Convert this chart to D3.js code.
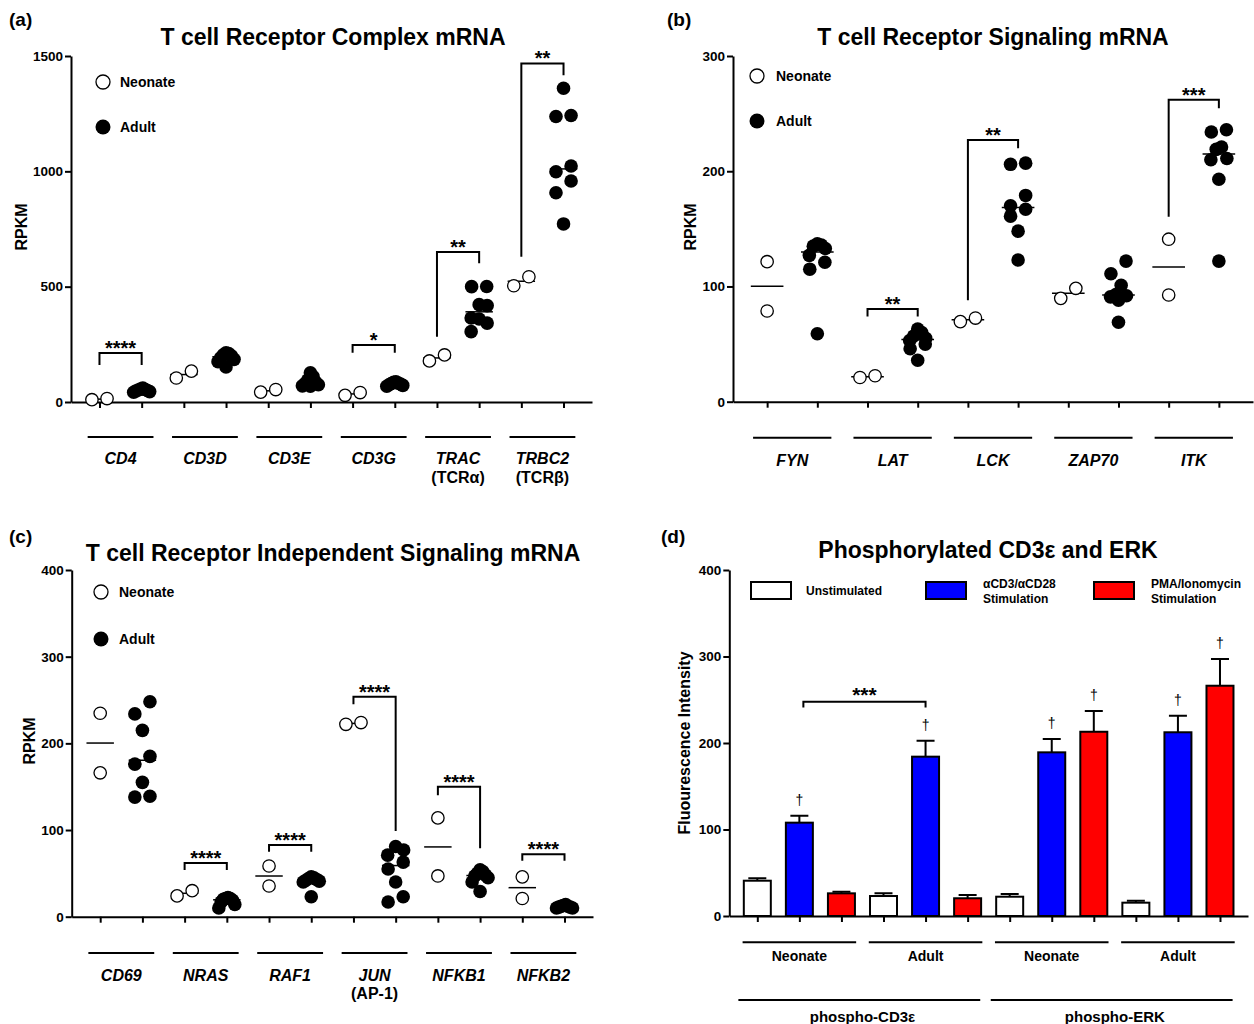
<!DOCTYPE html>
<html><head><meta charset="utf-8">
<script src="https://cdn.jsdelivr.net/npm/d3@7"></script>
<style>body{margin:0;background:#fff}</style>
</head><body>
<script>
// ---------------- DATA ----------------
// Panel (a) T cell Receptor Complex mRNA
const aCategories = ["CD4","CD3D","CD3E","CD3G","TRAC","TRBC2"];
const aSubLabels  = ["","","","","(TCRα)","(TCRβ)"];
const aNeonate = [[10,15],[104,134],[43,54],[29,41],[178,204],[504,543]];
const aAdult = [
  [60,56,54,52,50,48,45,42],
  [213,210,205,200,192,185,175,152],
  [127,110,95,85,80,75,70,68],
  [88,85,82,80,78,75,72,68],
  [501,500,422,418,364,360,342,305],
  [1360,1242,1238,1023,998,958,907,772]
];
const aYTicks = [0,500,1000,1500];
const aBrackets = [
  {cat:"CD4",  top:212, left:160, right:160, stars:"****"},
  {cat:"CD3G", top:247, left:213, right:213, stars:"*"},
  {cat:"TRAC", top:650, left:283, right:602, stars:"**"},
  {cat:"TRBC2",top:1468,left:630, right:1417,stars:"**"}
];

// Panel (b) T cell Receptor Signaling mRNA
const bCategories = ["FYN","LAT","LCK","ZAP70","ITK"];
const bSubLabels  = ["","","","",""];
const bNeonate = [[121.5,78.7],[21,22.5],[69.5,72.6],[89.7,98.4],[141,92.6]];
const bAdult = [
  [137,136,135,133,127,121,115,59],
  [63,60,57,55,53,50,46,36],
  [207,206,179,170,167,161,148,123],
  [122,111,101,93,92,91,88,69],
  [236,234,221,219,211,210,193,122]
];
const bYTicks = [0,100,200,300];
const bBrackets = [
  {cat:"LAT", top:80.5, left:74,    right:74,    stars:"**"},
  {cat:"LCK", top:227,  left:88,    right:220,   stars:"**"},
  {cat:"ITK", top:262,  left:160.6, right:254.7, stars:"***"}
];

// Panel (c) T cell Receptor Independent Signaling mRNA
const cCategories = ["CD69","NRAS","RAF1","JUN","NFKB1","NFKB2"];
const cSubLabels  = ["","","","(AP-1)","",""];
const cNeonate = [[234.7,166],[24,30],[58.5,35.4],[222,224],[114,47],[46,21]];
const cAdult = [
  [248,234,215,185,176,155,139,138],
  [22,21,21,20,19,17,14,10],
  [46,45,44,43,42,41,40,23],
  [81,77,71,63,55,40,23,17],
  [54,52,50,48,47,45,40,29],
  [14,13,12,12,11,11,10,10]
];
const cYTicks = [0,100,200,300,400];
const cBrackets = [
  {cat:"NRAS", top:62,    left:54,  right:54,   stars:"****"},
  {cat:"RAF1", top:82.7,  left:75,  right:75,   stars:"****"},
  {cat:"JUN",  top:253.8, left:245, right:99,   stars:"****"},
  {cat:"NFKB1",top:150,   left:140, right:79,   stars:"****"},
  {cat:"NFKB2",top:72,    left:64.6,right:64.6, stars:"****"}
];

// Panel (d) Phosphorylated CD3ε and ERK
const dMarkers = ["phospho-CD3ε","phospho-ERK"];
const dSubjects = ["Neonate","Adult"];
const dConditions = ["Unstimulated","αCD3/αCD28|Stimulation","PMA/Ionomycin|Stimulation"];
const dColors = ["#ffffff","#0000ff","#ff0000"];
// rows: CD3ε-Neonate, CD3ε-Adult, ERK-Neonate, ERK-Adult ; cols: conditions
const dMeans = [[40.8,107.9,26.2],[23.1,184.2,20.5],[22.3,189.2,213],[15.4,212.4,266.2]];
const dSEM   = [[2.8,8.1,1.8],[3.1,18.5,3.8],[3.1,15.4,24],[2.3,19.2,30.8]];
const dDagger = [[0,1,0],[0,1,0],[0,1,1],[0,1,1]];
const dYTicks = [0,100,200,300,400];
const dBracket = {from:[0,0,1], to:[0,1,1], top:247.7, left:241, right:241, stars:"***"};

// ---------------- DRAWING ----------------
const FONT = "'Liberation Sans', Arial, Helvetica, sans-serif";
const svg = d3.select("body").append("svg")
  .attr("width",1254).attr("height",1024)
  .style("font-family",FONT).style("background","#fff");

function styleAxis(sel, fs){
  sel.attr("font-family",FONT).attr("font-size",fs).attr("font-weight","bold");
  sel.select(".domain").attr("stroke","#000").attr("stroke-width",2);
  sel.selectAll(".tick line").attr("stroke","#000").attr("stroke-width",2);
  sel.selectAll(".tick text").attr("fill","#000");
}

// GraphPad-like scatter layout: points within one dot height share a row,
// rows are spread horizontally around the category centre.
function swarm(values, y, cx, r, gap, maxW){
  const pts = values.map(v=>({v, y:y(v)})).sort((a,b)=>a.y-b.y);
  const rows=[]; let cur=null;
  pts.forEach(p=>{
    if(cur && p.y-cur[0].y < 2*r) cur.push(p); else {cur=[p]; rows.push(cur);}
  });
  rows.forEach(row=>{
    row.sort((a,b)=>a.v-b.v);
    const k=row.length;
    const sp = k>1 ? Math.min(2*r+gap, maxW/(k-1)) : 0;
    // slot order: for k>2 the higher values sit in the middle (mound shape)
    let slots = d3.range(k);
    if(k>2){
      const left=[], right=[];
      d3.range(k).forEach(i=> (i%2===0 ? left : right).push(i));
      // lowest values go to the outer slots
      const order=[]; let lo=0, hi=k-1, t=0;
      for(let i=0;i<k;i++){ order.push(t%2===0 ? lo++ : hi--); t++; }
      slots = order;
    }
    row.forEach((p,i)=>p.x = cx + (slots[i]-(k-1)/2)*sp);
  });
  return pts;
}

function text(g, x, y, s, o={}){
  return g.append("text").attr("x",x).attr("y",y).text(s)
    .attr("font-size",o.fs||13).attr("font-weight",o.fw||"bold")
    .attr("font-style",o.it?"italic":"normal")
    .attr("text-anchor",o.anchor||"start").attr("fill","#000");
}

function dotPanel(c){
  const g = svg.append("g");
  const keys=[]; c.cats.forEach(k=>{keys.push(k+"|N"); keys.push(k+"|A");});
  const x = d3.scalePoint().domain(keys).range(c.xRange).padding(c.pad);
  const y = d3.scaleLinear().domain([0,c.yMax]).range(c.yRange);
  const step = x.step();
  const r = 6.8;

  g.append("g").attr("transform",`translate(${c.xRange[0]},0)`)
    .call(d3.axisLeft(y).tickValues(c.yTicks).tickFormat(d3.format("d")).tickSize(6).tickSizeOuter(0).tickPadding(2))
    .call(s=>styleAxis(s,13.5));
  g.append("g").attr("transform",`translate(0,${y(0)})`)
    .call(d3.axisBottom(x).tickSize(6).tickSizeOuter(0).tickFormat(""))
    .call(s=>styleAxis(s,13));

  // group lines & labels
  c.cats.forEach((k,i)=>{
    const mid=(x(k+"|N")+x(k+"|A"))/2;
    g.append("line").attr("x1",mid-0.78*step).attr("x2",mid+0.78*step)
      .attr("y1",c.groupLineY).attr("y2",c.groupLineY).attr("stroke","#000").attr("stroke-width",2);
    text(g, mid, c.labelY, k, {fs:16, it:true, anchor:"middle"});
    if(c.subs[i]) text(g, mid, c.labelY+18.5, c.subs[i], {fs:16, anchor:"middle"});
  });

  // medians
  const groups=[];
  c.cats.forEach((k,i)=>{
    groups.push({key:k+"|N", vals:c.neo[i], filled:false});
    groups.push({key:k+"|A", vals:c.adu[i], filled:true});
  });
  g.append("g").selectAll("line").data(groups).join("line")
    .attr("x1",d=>x(d.key)-0.325*step).attr("x2",d=>x(d.key)+0.325*step)
    .attr("y1",d=>y(d3.median(d.vals))).attr("y2",d=>y(d3.median(d.vals)))
    .attr("stroke","#000").attr("stroke-width",1.5);

  // dots
  groups.forEach(gr=>{
    const pts = swarm(gr.vals, y, x(gr.key), r, 1.5, 16);
    g.append("g").selectAll("circle").data(pts).join("circle")
      .attr("cx",d=>d.x).attr("cy",d=>d.y)
      .attr("r", gr.filled? r : r-0.6)
      .attr("fill", gr.filled? "#000":"#fff")
      .attr("stroke","#000").attr("stroke-width", gr.filled?0:1.3);
  });

  // brackets
  c.brackets.forEach(b=>{
    const xl=x(b.cat+"|N"), xr=x(b.cat+"|A");
    g.append("path").attr("d",`M${xl},${y(b.left)}V${y(b.top)}H${xr}V${y(b.right)}`)
      .attr("fill","none").attr("stroke","#000").attr("stroke-width",2);
    text(g,(xl+xr)/2, y(b.top)+2, b.stars, {fs:20, anchor:"middle"});
  });

  // legend
  const L=c.legend;
  g.append("circle").attr("cx",L.x).attr("cy",L.y1).attr("r",7).attr("fill","#fff").attr("stroke","#000").attr("stroke-width",1.3);
  g.append("circle").attr("cx",L.x).attr("cy",L.y2).attr("r",7.5).attr("fill","#000");
  text(g, L.tx, L.y1+5, "Neonate", {fs:14});
  text(g, L.tx, L.y2+5, "Adult", {fs:14});

  // titles
  text(g, c.titleX, c.titleY, c.title, {fs:23, anchor:"middle"});
  text(g, c.tagX, c.tagY, c.tag, {fs:19});
  text(g, 0, 0, "RPKM", {fs:16, anchor:"middle"})
    .attr("transform",`translate(${c.ylabelX},${c.ylabelY}) rotate(-90)`);
}

dotPanel({cats:aCategories, subs:aSubLabels, neo:aNeonate, adu:aAdult, yMax:1500, yTicks:aYTicks,
  xRange:[71,592], yRange:[402,56], pad:0.675, groupLineY:437, labelY:464, brackets:aBrackets,
  legend:{x:103,y1:82,y2:127,tx:120}, title:"T cell Receptor Complex mRNA", titleX:333, titleY:45,
  tag:"(a)", tagX:9, tagY:26, ylabelX:26.5, ylabelY:227});

dotPanel({cats:bCategories, subs:bSubLabels, neo:bNeonate, adu:bAdult, yMax:300, yTicks:bYTicks,
  xRange:[733,1253], yRange:[401.7,56], pad:0.68, groupLineY:437.7, labelY:465.5, brackets:bBrackets,
  legend:{x:757,y1:76,y2:121,tx:776}, title:"T cell Receptor Signaling mRNA", titleX:993, titleY:45,
  tag:"(b)", tagX:667, tagY:26, ylabelX:696, ylabelY:227});

dotPanel({cats:cCategories, subs:cSubLabels, neo:cNeonate, adu:cAdult, yMax:400, yTicks:cYTicks,
  xRange:[71.7,593], yRange:[916.7,570], pad:0.675, groupLineY:953, labelY:980.5, brackets:cBrackets,
  legend:{x:101,y1:592,y2:639,tx:119}, title:"T cell Receptor Independent Signaling mRNA", titleX:333, titleY:561,
  tag:"(c)", tagX:9, tagY:543, ylabelX:35, ylabelY:741});

// ---- Panel (d) bars ----
(function(){
  const g = svg.append("g");
  const keys=[];
  dMarkers.forEach((m,mi)=>dSubjects.forEach((s,si)=>dConditions.forEach((c,ci)=>keys.push(`${mi}|${si}|${ci}`))));
  const x = d3.scalePoint().domain(keys).range([729.3,1248]).padding(0.666);
  const y = d3.scaleLinear().domain([0,400]).range([916,570]);
  const step = x.step();
  const bw = 27;

  g.append("g").attr("transform","translate(729.3,0)")
    .call(d3.axisLeft(y).tickValues(dYTicks).tickFormat(d3.format("d")).tickSize(6).tickSizeOuter(0).tickPadding(2))
    .call(s=>styleAxis(s,13.5));

  const bars=[];
  dMarkers.forEach((m,mi)=>dSubjects.forEach((s,si)=>dConditions.forEach((c,ci)=>{
    const row=mi*2+si;
    bars.push({key:`${mi}|${si}|${ci}`, v:dMeans[row][ci], e:dSEM[row][ci], dag:dDagger[row][ci], ci});
  })));

  // error bars (behind bars)
  bars.forEach(b=>{
    const cx=x(b.key);
    g.append("path").attr("d",`M${cx},${y(b.v)}V${y(b.v+b.e)}M${cx-9},${y(b.v+b.e)}H${cx+9}`)
      .attr("stroke","#000").attr("stroke-width",2).attr("fill","none");
  });
  g.append("g").selectAll("rect").data(bars).join("rect")
    .attr("x",d=>x(d.key)-bw/2).attr("width",bw)
    .attr("y",d=>y(d.v)).attr("height",d=>y(0)-y(d.v))
    .attr("fill",d=>dColors[d.ci]).attr("stroke","#000").attr("stroke-width",2);
  bars.filter(b=>b.dag).forEach(b=>{
    text(g, x(b.key), y(b.v+b.e)-11, "†", {fs:14, fw:"normal", anchor:"middle"});
  });

  g.append("g").attr("transform",`translate(0,${y(0)})`)
    .call(d3.axisBottom(x).tickSize(6).tickSizeOuter(0).tickFormat(""))
    .call(s=>styleAxis(s,13));

  // bracket
  const xl=x(dBracket.from.join("|")), xr=x(dBracket.to.join("|"));
  g.append("path").attr("d",`M${xl+4},${y(dBracket.left)}V${y(dBracket.top)}H${xr}V${y(dBracket.right)}`)
    .attr("fill","none").attr("stroke","#000").attr("stroke-width",2);
  text(g,(xl+xr)/2+2, y(dBracket.top)-0, dBracket.stars, {fs:21, anchor:"middle"});

  // group lines
  dMarkers.forEach((m,mi)=>{
    dSubjects.forEach((s,si)=>{
      const x0=x(`${mi}|${si}|0`), x1=x(`${mi}|${si}|2`);
      g.append("line").attr("x1",x0-0.35*step).attr("x2",x1+0.35*step).attr("y1",942.3).attr("y2",942.3)
        .attr("stroke","#000").attr("stroke-width",2);
      text(g,(x0+x1)/2, 960.7, s, {fs:14, anchor:"middle"});
    });
    const x0=x(`${mi}|0|0`), x1=x(`${mi}|1|2`);
    g.append("line").attr("x1",x0-0.45*step).attr("x2",x1+0.3*step).attr("y1",1000).attr("y2",1000)
      .attr("stroke","#000").attr("stroke-width",2);
    text(g,(x0+x1)/2, 1022, m, {fs:15, anchor:"middle"});
  });

  // legend
  const lx=[751,926,1094], tx=[806,983,1151];
  dConditions.forEach((c,i)=>{
    g.append("rect").attr("x",lx[i]).attr("y",582).attr("width",40).attr("height",17)
      .attr("fill",dColors[i]).attr("stroke","#000").attr("stroke-width",2);
    const parts=c.split("|");
    if(parts.length===1) text(g, tx[i], 594.5, parts[0], {fs:12});
    else { text(g, tx[i], 588, parts[0], {fs:12}); text(g, tx[i], 603, parts[1], {fs:12}); }
  });

  text(g, 988, 558, "Phosphorylated CD3ε and ERK", {fs:23, anchor:"middle"});
  text(g, 661, 543, "(d)", {fs:19});
  text(g, 0, 0, "Fluourescence Intensity", {fs:16, anchor:"middle"})
    .attr("transform","translate(690,743) rotate(-90)");
})();
</script>
</body></html>
